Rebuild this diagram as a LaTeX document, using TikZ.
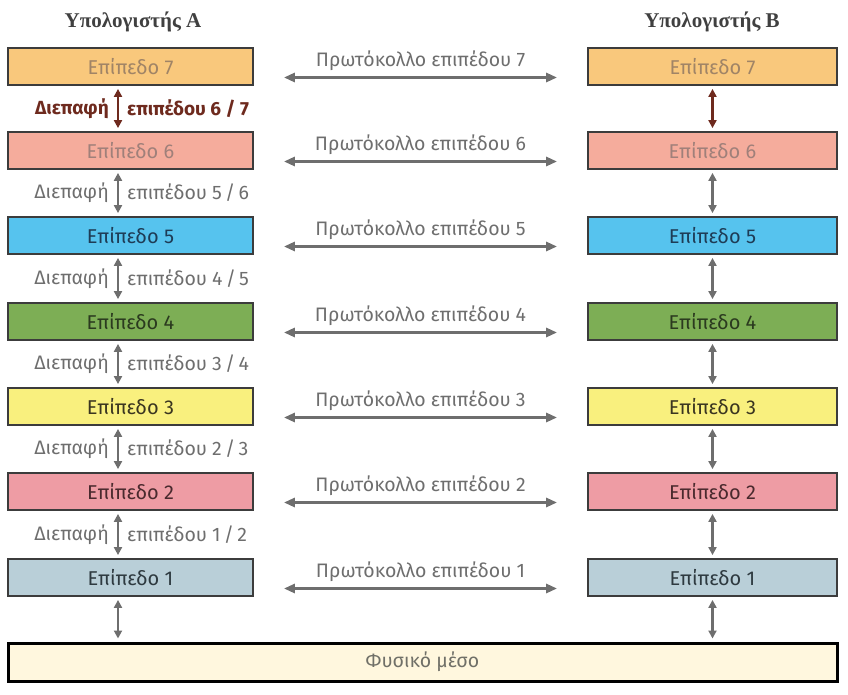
\documentclass[tikz,border=0pt]{standalone}
\usepackage{fontspec}
\setmainfont{Fira Sans}
\newfontfamily\headfont{Liberation Serif}
\usetikzlibrary{arrows.meta,calc}
\definecolor{c7}{HTML}{F9C87C}\definecolor{t7}{HTML}{A08466}
\definecolor{c6}{HTML}{F5AC9C}\definecolor{t6}{HTML}{A0807A}
\definecolor{c5}{HTML}{56C3EE}\definecolor{t5}{HTML}{1E3C56}
\definecolor{c4}{HTML}{7DAE55}\definecolor{t4}{HTML}{2B3A1F}
\definecolor{c3}{HTML}{F9F07E}\definecolor{t3}{HTML}{3A3520}
\definecolor{c2}{HTML}{EE9CA4}\definecolor{t2}{HTML}{4A2A2E}
\definecolor{c1}{HTML}{B9CFD8}\definecolor{t1}{HTML}{2E3A40}
\definecolor{cphys}{HTML}{FFF7DE}\definecolor{tphys}{HTML}{707068}
\definecolor{boxline}{HTML}{3C3C3C}
\definecolor{arrgray}{HTML}{6E6E6E}
\definecolor{txtgray}{HTML}{6E6E6E}
\definecolor{darkred}{HTML}{6E2A1E}
\begin{document}
\begin{tikzpicture}[x=1pt,y=-1pt,
  layerbox/.style={draw=boxline,line width=1.8pt,minimum height=37pt,inner sep=0pt,font=\fontsize{20}{22}\selectfont},
  leftbox/.style={layerbox,minimum width=245pt},
  rightbox/.style={layerbox,minimum width=249pt},
  protoarrow/.style={draw=arrgray,line width=2.8pt,{Triangle[length=11pt,width=9pt]}-{Triangle[length=11pt,width=9pt]}},
  vertarrow/.style={draw=arrgray,line width=2.4pt,{Triangle[length=8pt,width=8pt]}-{Triangle[length=8pt,width=8pt]},shorten <=3pt,shorten >=3pt},
  redarrow/.style={vertarrow,draw=darkred},
  ifacetext/.style={text=txtgray,font=\fontsize{19.5}{22}\selectfont,inner sep=0pt},
  redtext/.style={text=darkred,font=\bfseries\fontsize{19}{22}\selectfont,inner sep=0pt},
  prototext/.style={text=txtgray,font=\fontsize{19.5}{22}\selectfont,inner sep=0pt},
  headtext/.style={text=black!75,font=\headfont\bfseries\fontsize{21}{24}\selectfont}
]
\useasboundingbox (0,0) rectangle (848,695);
\node[headtext] (hA) at (133,22) {Υπολογιστής A};
\node[headtext] (hB) at (712,22) {Υπολογιστής B};
\foreach \k/\yc in {7/66.5,6/150.5,5/235.5,4/321.5,3/406.5,2/491.5,1/577.5}{
  \node[leftbox,fill=c\k,text=t\k] (L\k) at (130.5,\yc) {Επίπεδο \k};
  \node[rightbox,fill=c\k,text=t\k] (R\k) at (712.5,\yc) {Επίπεδο \k};
  \draw[protoarrow] ([shift={(30,11)}]L\k.east) -- node[prototext,yshift=17pt] (P\k) {Πρωτόκολλο επιπέδου \k} ([shift={(-30,11)}]R\k.west);
}
\node[draw=black,line width=3pt,fill=cphys,minimum width=829pt,minimum height=38pt,inner sep=0pt,text=tphys,font=\fontsize{19.5}{22}\selectfont] (phys) at (422.5,662) {Φυσικό μέσο};
% interfaces
\draw[redarrow] ([xshift=-12.5pt]L7.south) -- ([xshift=-12.5pt]L6.north);
\node[redtext,anchor=east] (I7a) at (109,108.5) {Διεπαφή};
\node[redtext,anchor=west] (I7b) at (127,108.5) {επιπέδου 6 / 7};
\draw[redarrow] (R7.south) -- (R6.north);
\foreach \u/\l/\ym in {6/5/193,5/4/278.5,4/3/364,3/2/449,2/1/534.5}{
  \draw[vertarrow] ([xshift=-12.5pt]L\u.south) -- ([xshift=-12.5pt]L\l.north);
  \node[ifacetext,anchor=east] (Ia\l) at (109,\ym) {Διεπαφή};
  \node[ifacetext,anchor=west] (Ib\l) at (127,\ym) {επιπέδου \l\,/\,\u};
  \draw[vertarrow] (R\u.south) -- (R\l.north);
}
\coordinate (L1b) at ([xshift=-12.5pt]L1.south);
\draw[vertarrow] (L1b) -- (L1b |- phys.north);
\draw[vertarrow] (R1.south) -- (R1.south |- phys.north);
\end{tikzpicture}
\end{document}
